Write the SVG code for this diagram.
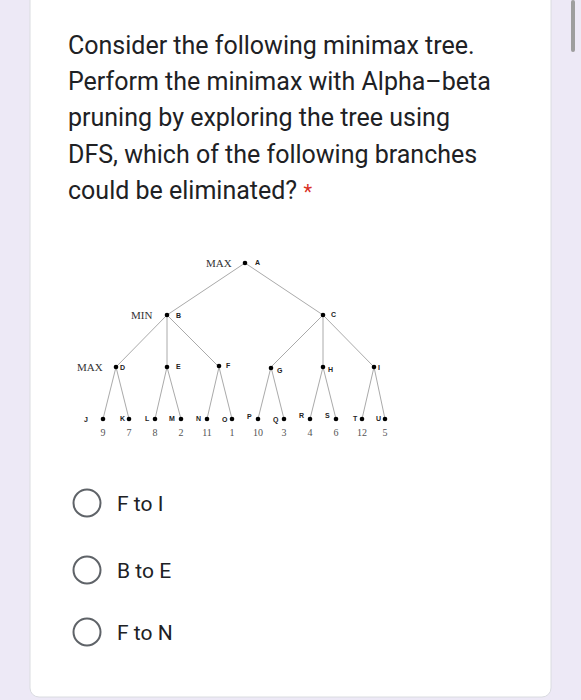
<svg xmlns="http://www.w3.org/2000/svg" width="581" height="700" viewBox="0 0 581 700">
<style>
.q{font-family:Roboto,"Liberation Sans",sans-serif;font-size:25px;fill:#202124}
.opt{font-family:Roboto,"Liberation Sans",sans-serif;font-size:21px;fill:#202124}
.lvl{font-family:"Liberation Serif",serif;font-size:11px;fill:#333}
.lab{font-family:"Liberation Sans",sans-serif;font-size:7px;font-weight:bold;fill:#222}
.val{font-family:"Liberation Serif",serif;font-size:10px;fill:#555;text-anchor:middle}
.e{stroke:#aaa;stroke-width:1;fill:none}
.radio{fill:none;stroke:#5f6368;stroke-width:2}
</style>
<rect width="581" height="700" fill="#ede9f6"/>
<rect x="30" y="-10" width="521" height="707" rx="9" fill="#fff" stroke="#dadce0"/>
<rect x="571" y="0" width="4" height="52" rx="2" fill="#9e9e9e"/>
<g id="question">
<text class="q" x="68" y="54">Consider the following minimax tree.</text>
<text class="q" x="68" y="90">Perform the minimax with Alpha–beta</text>
<text class="q" x="68" y="126">pruning by exploring the tree using</text>
<text class="q" x="68" y="163">DFS, which of the following branches</text>
<text class="q" x="68" y="199">could be eliminated? <tspan fill="#d93025" font-size="20">*</tspan></text>
</g>
<g id="connectors">
<line class="e" x1="245" y1="263" x2="167" y2="315"/>
<line class="e" x1="245" y1="263" x2="323" y2="315"/>
<line class="e" x1="167" y1="315" x2="116" y2="367"/>
<line class="e" x1="167" y1="315" x2="167" y2="367"/>
<line class="e" x1="167" y1="315" x2="219" y2="367"/>
<line class="e" x1="323" y1="315" x2="271" y2="367"/>
<line class="e" x1="323" y1="315" x2="323" y2="367"/>
<line class="e" x1="323" y1="315" x2="374" y2="367"/>
<line class="e" x1="116" y1="367" x2="103" y2="419"/>
<line class="e" x1="116" y1="367" x2="129" y2="419"/>
<line class="e" x1="167" y1="367" x2="155" y2="419"/>
<line class="e" x1="167" y1="367" x2="181" y2="419"/>
<line class="e" x1="219" y1="367" x2="207" y2="419"/>
<line class="e" x1="219" y1="367" x2="232" y2="419"/>
<line class="e" x1="271" y1="367" x2="258" y2="419"/>
<line class="e" x1="271" y1="367" x2="284" y2="419"/>
<line class="e" x1="323" y1="367" x2="310" y2="419"/>
<line class="e" x1="323" y1="367" x2="336" y2="419"/>
<line class="e" x1="374" y1="367" x2="362" y2="419"/>
<line class="e" x1="374" y1="367" x2="385" y2="419"/>
</g>
<text class="lvl" x="206" y="267">MAX</text>
<text class="lvl" x="131" y="319">MIN</text>
<text class="lvl" x="77" y="371">MAX</text>
<g id="A"><circle cx="245" cy="263" r="2.3" fill="#000"/><text class="lab" x="255" y="265">A</text></g>
<g id="B"><circle cx="167" cy="315" r="2.3" fill="#000"/><text class="lab" x="176" y="318">B</text></g>
<g id="C"><circle cx="323" cy="315" r="2.3" fill="#000"/><text class="lab" x="331" y="317">C</text></g>
<g id="D"><circle cx="116" cy="367" r="2.3" fill="#000"/><text class="lab" x="120" y="370">D</text></g>
<g id="E"><circle cx="167" cy="367" r="2.3" fill="#000"/><text class="lab" x="176" y="369">E</text></g>
<g id="F"><circle cx="219" cy="366" r="2.3" fill="#000"/><text class="lab" x="226" y="368">F</text></g>
<g id="G"><circle cx="271" cy="368" r="2.3" fill="#000"/><text class="lab" x="277" y="373">G</text></g>
<g id="H"><circle cx="323" cy="367" r="2.3" fill="#000"/><text class="lab" x="328" y="372">H</text></g>
<g id="I"><circle cx="374" cy="367" r="2.3" fill="#000"/><text class="lab" x="378" y="370">I</text></g>
<g id="J"><circle cx="103" cy="419" r="2.3" fill="#000"/><text class="lab" x="84" y="422">J</text><text class="val" x="103" y="436">9</text></g>
<g id="K"><circle cx="129" cy="419" r="2.3" fill="#000"/><text class="lab" x="120" y="421">K</text><text class="val" x="129" y="436">7</text></g>
<g id="L"><circle cx="155" cy="419" r="2.3" fill="#000"/><text class="lab" x="145" y="421">L</text><text class="val" x="155" y="436">8</text></g>
<g id="M"><circle cx="181" cy="419" r="2.3" fill="#000"/><text class="lab" x="169" y="421">M</text><text class="val" x="181" y="436">2</text></g>
<g id="N"><circle cx="207" cy="419" r="2.3" fill="#000"/><text class="lab" x="196" y="421">N</text><text class="val" x="207" y="436">11</text></g>
<g id="O"><circle cx="232" cy="419" r="2.3" fill="#000"/><text class="lab" x="222" y="422">O</text><text class="val" x="232" y="436">1</text></g>
<g id="P"><circle cx="258" cy="419" r="2.3" fill="#000"/><text class="lab" x="247" y="419">P</text><text class="val" x="258" y="436">10</text></g>
<g id="Q"><circle cx="284" cy="419" r="2.3" fill="#000"/><text class="lab" x="273" y="422">Q</text><text class="val" x="284" y="436">3</text></g>
<g id="R"><circle cx="310" cy="419" r="2.3" fill="#000"/><text class="lab" x="299" y="418">R</text><text class="val" x="310" y="436">4</text></g>
<g id="S"><circle cx="336" cy="419" r="2.3" fill="#000"/><text class="lab" x="325" y="418">S</text><text class="val" x="336" y="436">6</text></g>
<g id="T"><circle cx="362" cy="419" r="2.3" fill="#000"/><text class="lab" x="353" y="421">T</text><text class="val" x="362" y="436">12</text></g>
<g id="U"><circle cx="385" cy="419" r="2.3" fill="#000"/><text class="lab" x="376" y="421">U</text><text class="val" x="385" y="436">5</text></g>
<g id="opt1"><circle class="radio" cx="87" cy="503" r="13.5"/><text class="opt" x="117" y="511">F to I</text></g>
<g id="opt2"><circle class="radio" cx="87" cy="570" r="13.5"/><text class="opt" x="117" y="578">B to E</text></g>
<g id="opt3"><circle class="radio" cx="87" cy="632" r="13.5"/><text class="opt" x="117" y="640">F to N</text></g>
</svg>
